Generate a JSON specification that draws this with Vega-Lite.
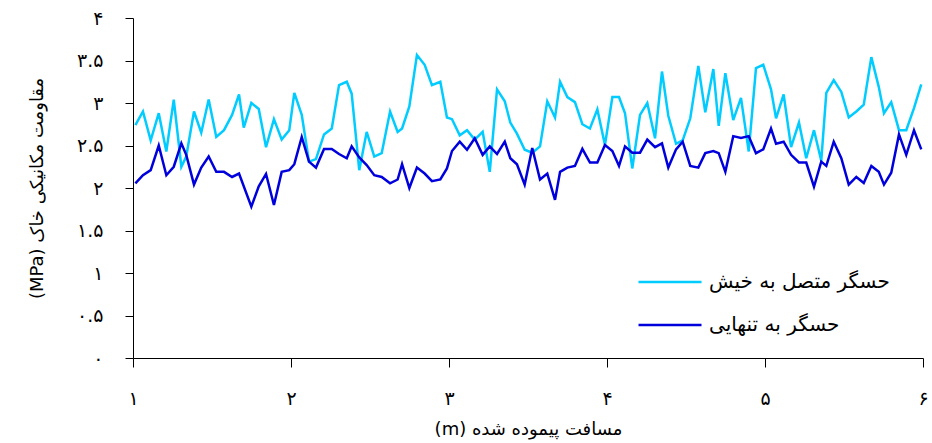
{
  "$schema": "https://vega.github.io/schema/vega-lite/v6.json",
  "width": 790,
  "height": 340,
  "autosize": {"type": "none"},
  "padding": {"left": 133, "top": 18, "right": 9, "bottom": 85},
  "background": "white",
  "data": {
    "values": [
      {"x":1.015,"a":2.74,"b":2.055},{"x":1.063,"a":2.90,"b":2.15},{"x":1.112,"a":2.56,"b":2.21},{"x":1.163,"a":2.88,"b":2.50},
      {"x":1.211,"a":2.43,"b":2.15},{"x":1.258,"a":3.04,"b":2.25},{"x":1.306,"a":2.25,"b":2.525},{"x":1.337,"a":2.37,"b":2.39},
      {"x":1.386,"a":2.90,"b":2.04},{"x":1.432,"a":2.65,"b":2.24},{"x":1.479,"a":3.04,"b":2.37},{"x":1.527,"a":2.60,"b":2.19},
      {"x":1.576,"a":2.68,"b":2.19},{"x":1.627,"a":2.86,"b":2.13},{"x":1.671,"a":3.10,"b":2.17},{"x":1.701,"a":2.71,"b":null},
      {"x":1.749,"a":3.00,"b":1.78},{"x":1.796,"a":2.93,"b":2.02},{"x":1.842,"a":2.48,"b":2.165},{"x":1.892,"a":2.81,"b":1.80},
      {"x":1.941,"a":2.57,"b":2.19},{"x":1.989,"a":2.68,"b":2.21},{"x":2.021,"a":3.12,"b":2.28},{"x":2.068,"a":2.86,"b":2.60},
      {"x":2.114,"a":2.31,"b":2.31},{"x":2.158,"a":2.34,"b":2.24},{"x":2.209,"a":2.63,"b":2.46},{"x":2.258,"a":2.70,"b":2.46},
      {"x":2.304,"a":3.21,"b":2.40},{"x":2.353,"a":3.25,"b":2.35},{"x":2.384,"a":3.11,"b":2.49},{"x":2.432,"a":2.21,"b":2.36},
      {"x":2.479,"a":2.66,"b":2.27},{"x":2.527,"a":2.37,"b":2.15},{"x":2.574,"a":2.41,"b":2.13},{"x":2.627,"a":2.90,"b":2.055},
      {"x":2.675,"a":2.66,"b":2.10},{"x":2.703,"a":2.70,"b":2.28},{"x":2.749,"a":2.96,"b":2.00},{"x":2.797,"a":3.565,"b":2.24},
      {"x":2.846,"a":3.45,"b":2.17},{"x":2.892,"a":3.21,"b":2.08},{"x":2.945,"a":3.25,"b":2.10},{"x":2.987,"a":2.83,"b":2.23},
      {"x":3.019,"a":2.81,"b":2.435},{"x":3.068,"a":2.62,"b":2.545},{"x":3.114,"a":2.68,"b":2.45},{"x":3.163,"a":2.57,"b":2.585},
      {"x":3.213,"a":2.66,"b":2.39},{"x":3.258,"a":2.19,"b":2.49},{"x":3.304,"a":3.16,"b":2.40},{"x":3.353,"a":3.02,"b":2.545},
      {"x":3.388,"a":2.77,"b":2.35},{"x":3.430,"a":2.64,"b":2.28},{"x":3.479,"a":2.45,"b":2.04},{"x":3.527,"a":2.415,"b":2.47},
      {"x":3.576,"a":2.49,"b":2.10},{"x":3.622,"a":3.02,"b":2.17},{"x":3.671,"a":2.83,"b":1.86},{"x":3.703,"a":3.25,"b":2.19},
      {"x":3.749,"a":3.07,"b":2.24},{"x":3.797,"a":3.01,"b":2.26},{"x":3.844,"a":2.75,"b":2.46},{"x":3.892,"a":2.70,"b":2.30},
      {"x":3.939,"a":2.925,"b":2.30},{"x":3.987,"a":2.505,"b":2.505},{"x":4.034,"a":3.07,"b":2.435},{"x":4.076,"a":3.07,"b":2.26},
      {"x":4.114,"a":2.88,"b":2.49},{"x":4.160,"a":2.23,"b":2.415},{"x":4.209,"a":2.86,"b":2.415},{"x":4.255,"a":3.00,"b":2.57},
      {"x":4.304,"a":2.585,"b":2.48},{"x":4.348,"a":3.37,"b":2.525},{"x":4.388,"a":2.85,"b":2.24},{"x":4.437,"a":2.52,"b":2.455},
      {"x":4.479,"a":2.56,"b":2.545},{"x":4.527,"a":2.82,"b":2.26},{"x":4.578,"a":3.435,"b":2.24},{"x":4.622,"a":2.89,"b":2.41},
      {"x":4.673,"a":3.40,"b":2.435},{"x":4.707,"a":2.73,"b":2.41},{"x":4.749,"a":3.35,"b":2.19},{"x":4.799,"a":2.80,"b":2.61},
      {"x":4.848,"a":3.06,"b":2.59},{"x":4.897,"a":2.43,"b":2.61},{"x":4.943,"a":3.41,"b":2.41},{"x":4.989,"a":3.45,"b":2.455},
      {"x":5.038,"a":3.16,"b":2.70},{"x":5.070,"a":2.82,"b":2.52},{"x":5.118,"a":3.10,"b":2.545},{"x":5.165,"a":2.48,"b":2.39},
      {"x":5.215,"a":2.77,"b":2.30},{"x":5.261,"a":2.35,"b":2.30},{"x":5.310,"a":2.68,"b":2.015},{"x":5.356,"a":2.32,"b":2.31},
      {"x":5.388,"a":3.12,"b":2.26},{"x":5.435,"a":3.27,"b":2.545},{"x":5.483,"a":3.13,"b":2.35},{"x":5.530,"a":2.83,"b":2.04},
      {"x":5.578,"a":2.90,"b":2.13},{"x":5.625,"a":2.98,"b":2.06},{"x":5.673,"a":3.54,"b":2.26},{"x":5.720,"a":3.19,"b":2.19},
      {"x":5.753,"a":2.88,"b":2.04},{"x":5.799,"a":3.01,"b":2.18},{"x":5.848,"a":2.68,"b":2.63},{"x":5.894,"a":2.68,"b":2.39},
      {"x":5.943,"a":2.94,"b":2.68},{"x":5.989,"a":3.22,"b":2.455}
    ]
  },
  "transform": [
    {"fold": ["a", "b"], "as": ["key", "value"]},
    {"filter": "datum.value != null"},
    {"lookup": "key", "from": {"data": {"values": [{"key": "a", "series": "حسگر متصل به خیش"}, {"key": "b", "series": "حسگر به تنهایی"}]}, "key": "key", "fields": ["series"]}}
  ],
  "mark": {"type": "line", "strokeWidth": 2.5, "clip": false},
  "encoding": {
    "x": {
      "field": "x", "type": "quantitative",
      "scale": {"domain": [1, 6], "nice": false, "zero": false},
      "axis": {
        "title": "(m) مسافت پیموده شده",
        "values": [1, 2, 3, 4, 5, 6],
        "format": "d",
        "labelExpr": "replace(replace(replace(replace(replace(replace(datum.label,'1','۱'),'2','۲'),'3','۳'),'4','۴'),'5','۵'),'6','۶')",
        "grid": false, "tickSize": 9, "labelPadding": 22, "labelFontSize": 19,
        "titleFontSize": 18, "titlePadding": 12, "labelFlush": false
      }
    },
    "y": {
      "field": "value", "type": "quantitative",
      "scale": {"domain": [0, 4], "nice": false},
      "axis": {
        "title": "(MPa) مقاومت مکانیکی خاک",
        "values": [0, 0.5, 1, 1.5, 2, 2.5, 3, 3.5, 4],
        "format": ".2~f",
        "labelExpr": "replace(replace(replace(replace(replace(replace(datum.label,'0','۰'),'1','۱'),'2','۲'),'3','۳'),'4','۴'),'5','۵')",
        "grid": false, "tickSize": 8, "labelPadding": 22, "labelFontSize": 19,
        "titleFontSize": 18, "titlePadding": 30
      }
    },
    "color": {
      "field": "series", "type": "nominal",
      "scale": {"domain": ["حسگر متصل به خیش", "حسگر به تنهایی"], "range": ["#00CCFF", "#0000DD"]},
      "legend": {
        "title": null,
        "orient": "none",
        "legendX": 504,
        "legendY": 231,
        "symbolType": "stroke",
        "symbolSize": 3969,
        "symbolStrokeWidth": 2.5,
        "labelFontSize": 20,
        "labelOffset": 6,
        "rowPadding": -20,
        "padding": 0,
        "labelLimit": 400
      }
    }
  },
  "config": {
    "view": {"stroke": null},
    "font": "DejaVu Sans",
    "axis": {
      "domainColor": "#000", "tickColor": "#000", "labelColor": "#000", "titleColor": "#000",
      "titleFontWeight": "normal", "labelFont": "DejaVu Sans", "titleFont": "DejaVu Sans"
    },
    "legend": {"labelColor": "#000", "labelFont": "DejaVu Sans"}
  }
}
